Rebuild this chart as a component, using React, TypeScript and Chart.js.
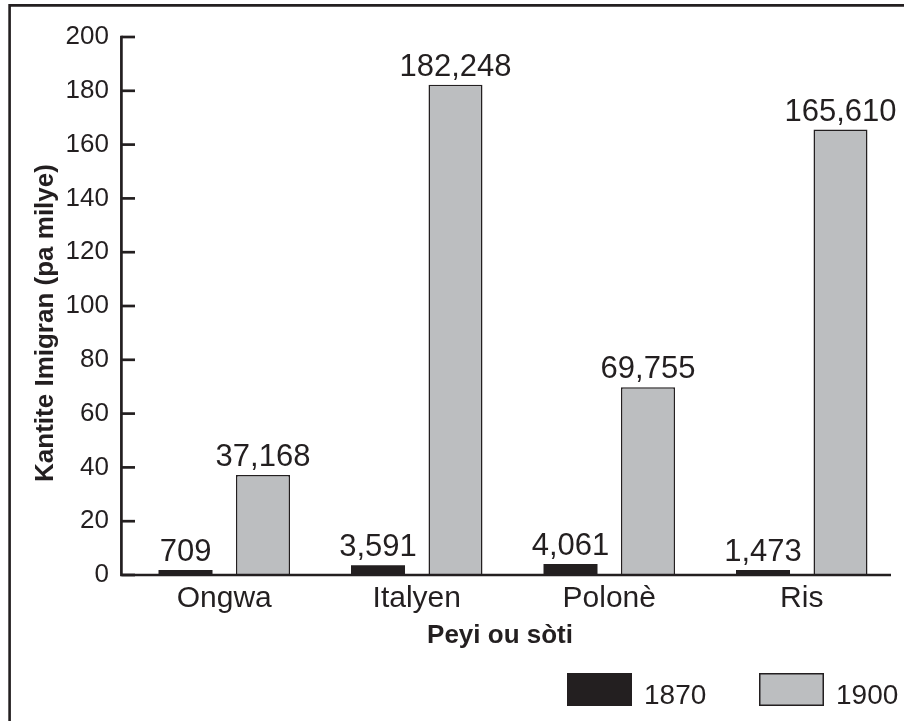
import { useEffect, useRef } from "react";
import { Chart, registerables } from "chart.js";

Chart.register(...registerables);

const categories = ["Ongwa", "Italyen", "Polonè", "Ris"];
const immigrants1870 = [709, 3591, 4061, 1473];
const immigrants1900 = [37168, 182248, 69755, 165610];
const seriesLabels = ["1870", "1900"];
const yAxisTitle = "Kantite Imigran (pa milye)";
const xAxisTitle = "Peyi ou sòti";
const yMin = 0;
const yMax = 200;
const yStep = 20;

const FONT = "'Liberation Sans', Arial, Helvetica, sans-serif";
const INK = "#231f20";
const GRAY = "#bcbec0";

const rawSeries = [immigrants1870, immigrants1900];

const decorPlugin = {
  id: "decor",
  beforeDraw(chart: any) {
    const ctx = chart.ctx;
    ctx.save();
    ctx.fillStyle = "#ffffff";
    ctx.fillRect(0, 0, chart.width, chart.height);
    ctx.strokeStyle = INK;
    ctx.lineWidth = 2.6;
    ctx.beginPath();
    ctx.moveTo(9.6, chart.height + 2);
    ctx.lineTo(9.6, 5.4);
    ctx.lineTo(chart.width + 2, 5.4);
    ctx.stroke();
    ctx.restore();
  },
  afterDatasetsDraw(chart: any) {
    const ctx = chart.ctx;
    const y = chart.scales.y;
    const yZero = y.getPixelForValue(yMin);
    const yTop = y.getPixelForValue(yMax);
    const axisX = 121.4;
    ctx.save();
    ctx.strokeStyle = INK;
    ctx.lineWidth = 2.7;
    ctx.lineCap = "butt";
    ctx.beginPath();
    ctx.moveTo(axisX, yTop - 1.35);
    ctx.lineTo(axisX, yZero);
    ctx.lineTo(891, yZero);
    ctx.stroke();
    y.ticks.forEach((t: any) => {
      const py = y.getPixelForValue(t.value);
      ctx.beginPath();
      ctx.moveTo(axisX, py);
      ctx.lineTo(135, py);
      ctx.stroke();
    });

    // value labels
    ctx.fillStyle = INK;
    ctx.font = `31px ${FONT}`;
    ctx.textAlign = "center";
    ctx.textBaseline = "alphabetic";
    chart.data.datasets.forEach((_ds: any, di: number) => {
      const meta = chart.getDatasetMeta(di);
      meta.data.forEach((bar: any, i: number) => {
        const txt = rawSeries[di][i].toLocaleString("en-US");
        ctx.fillText(txt, bar.x, bar.y - 9);
      });
    });

    // axis titles
    ctx.font = `bold 26px ${FONT}`;
    ctx.textAlign = "center";
    ctx.fillText(xAxisTitle, 500, 643);
    ctx.save();
    ctx.translate(53, 323);
    ctx.rotate(-Math.PI / 2);
    ctx.fillText(yAxisTitle, 0, 0);
    ctx.restore();

    // legend
    const boxes = [567, 759];
    ctx.font = `28px ${FONT}`;
    ctx.textAlign = "left";
    chart.data.datasets.forEach((ds: any, di: number) => {
      const bx = boxes[di];
      ctx.fillStyle = ds.backgroundColor;
      ctx.fillRect(bx, 673, 65, 33);
      if (ds.borderWidth) {
        ctx.lineWidth = 1.5;
        ctx.strokeStyle = INK;
        ctx.strokeRect(bx + 0.75, 673.75, 63.5, 31.5);
      }
      ctx.fillStyle = INK;
      ctx.fillText(ds.label, bx + 77, 704);
    });
    ctx.restore();
  },
};

export default function App() {
  const ref = useRef<HTMLCanvasElement | null>(null);

  useEffect(() => {
    document.body.style.margin = "0";
    document.body.style.overflow = "hidden";
    if (!ref.current) return;
    const chart = new Chart(ref.current, {
      type: "bar",
      data: {
        labels: categories,
        datasets: [
          {
            label: seriesLabels[0],
            data: immigrants1870.map((v) => v / 1000),
            backgroundColor: INK,
            borderWidth: 0,
            minBarLength: 5,
            categoryPercentage: 0.805,
            barPercentage: 0.697,
          },
          {
            label: seriesLabels[1],
            data: immigrants1900.map((v) => v / 1000),
            backgroundColor: GRAY,
            borderColor: INK,
            borderWidth: 1.5,
            categoryPercentage: 0.805,
            barPercentage: 0.697,
          },
        ],
      },
      options: {
        animation: false,
        responsive: false,
        devicePixelRatio: 1,
        layout: { padding: { top: 37, right: 6, bottom: 0, left: 0 } },
        plugins: {
          legend: { display: false },
          tooltip: { enabled: false },
        },
        scales: {
          x: {
            grid: { display: false, drawTicks: false },
            border: { display: false },
            ticks: {
              color: INK,
              font: { family: FONT, size: 30 },
              padding: 6,
            },
            afterFit(scale: any) {
              scale.height = 146;
            },
          },
          y: {
            min: yMin,
            max: yMax,
            grid: { display: false, drawTicks: false },
            border: { display: false },
            ticks: {
              stepSize: yStep,
              color: INK,
              font: { family: FONT, size: 26 },
              padding: 19,
            },
            afterFit(scale: any) {
              scale.width = 128;
            },
          },
        },
      },
      plugins: [decorPlugin],
    });
    return () => chart.destroy();
  }, []);

  return (
    <canvas
      ref={ref}
      width={904}
      height={721}
      style={{ display: "block", width: "904px", height: "721px" }}
    />
  );
}
